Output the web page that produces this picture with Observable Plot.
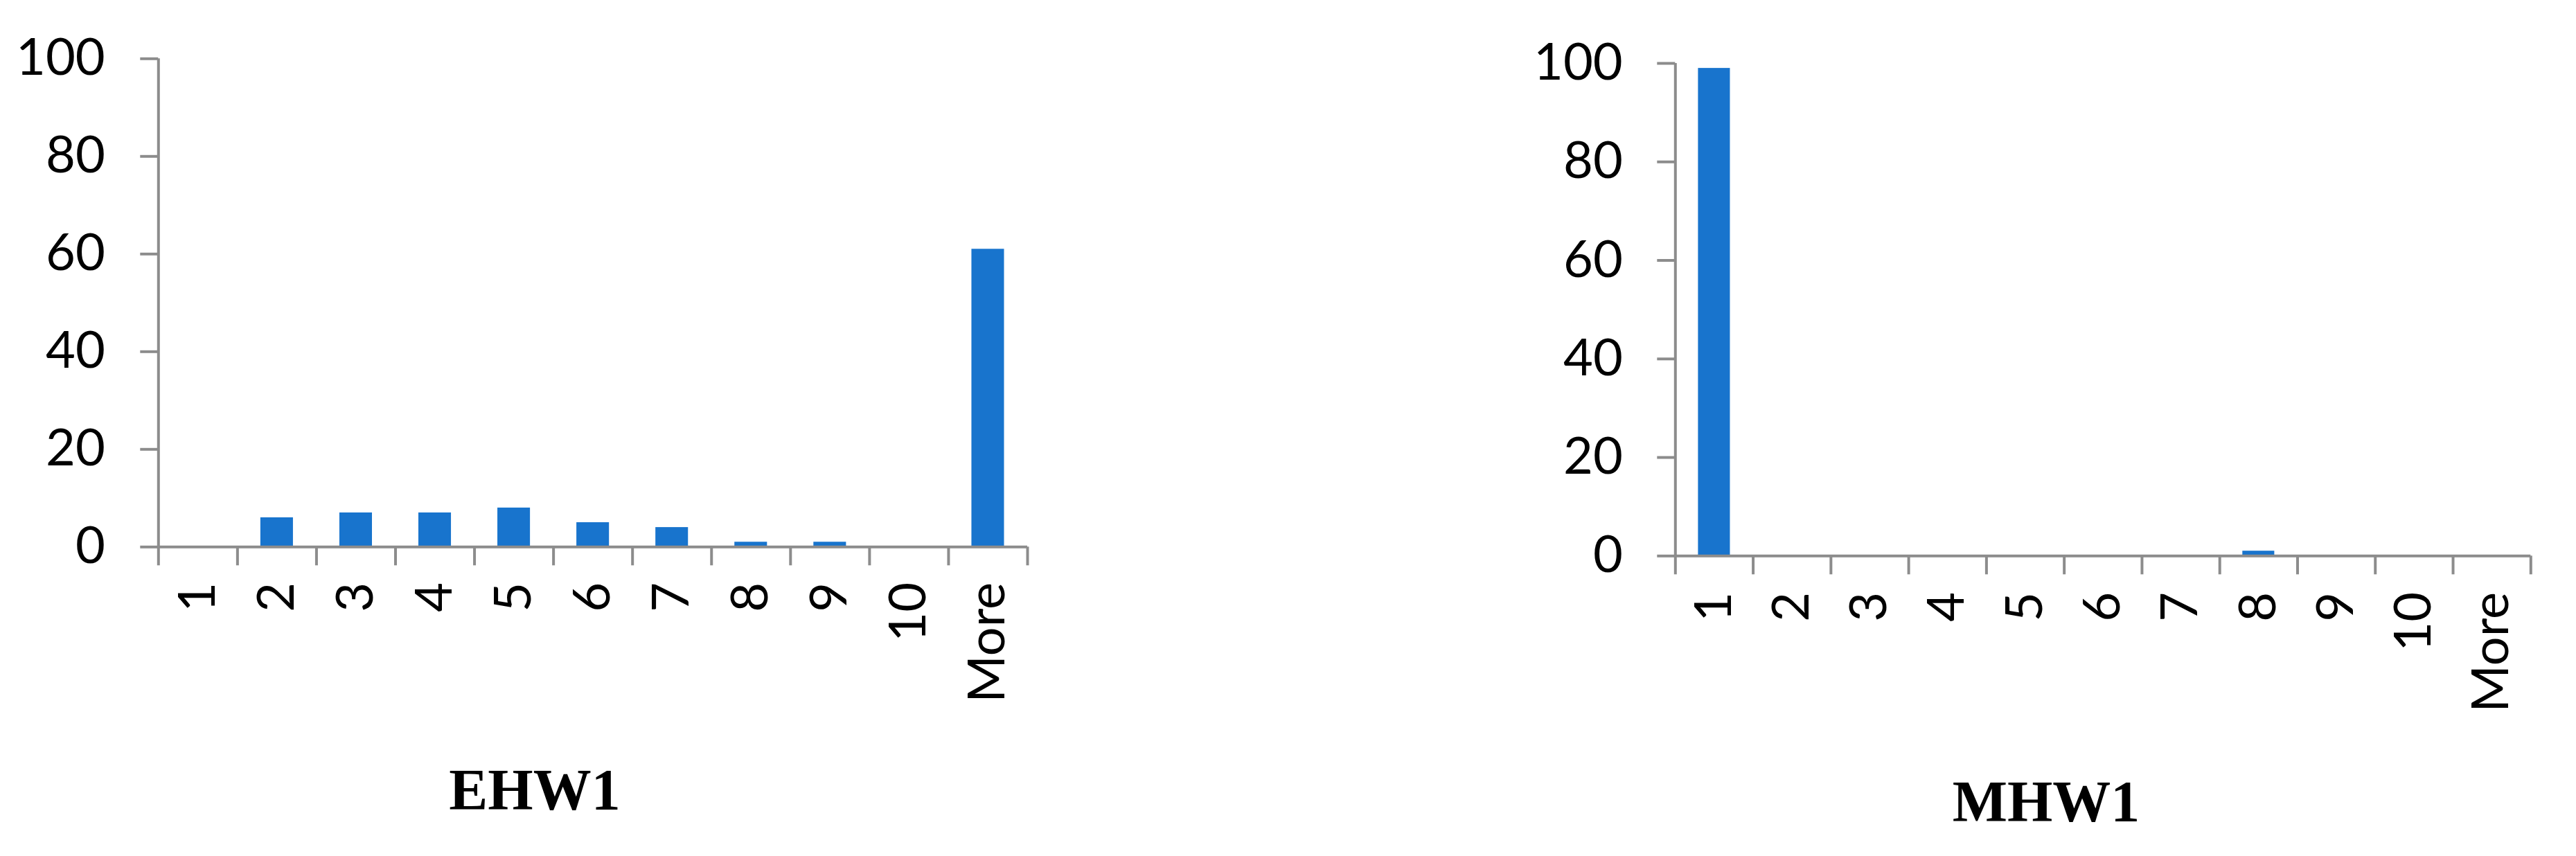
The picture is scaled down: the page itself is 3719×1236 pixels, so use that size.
<!DOCTYPE html>
<html>
<head>
<meta charset="utf-8">
<script src="https://cdn.jsdelivr.net/npm/d3@7"></script>
<script src="https://cdn.jsdelivr.net/npm/@observablehq/plot@0.6"></script>
<style>
  html, body { margin: 0; padding: 0; background: #ffffff; }
  #root { position: relative; width: 3719px; height: 1236px; background: #ffffff; overflow: hidden; }
  .panel { position: absolute; top: 0; }
  .title { position: absolute; width: 600px; text-align: center; font-family: "Liberation Serif", "Times New Roman", serif; font-weight: bold; font-size: 84px; line-height: 84px; color: #000; }
</style>
</head>
<body>
<div id="root"></div>
<script>
// ---- data ----
const categories = ["1", "2", "3", "4", "5", "6", "7", "8", "9", "10", "More"];
const ehw1Values = [0, 6, 7, 7, 8, 5, 4, 1, 1, 0, 61];
const mhw1Values = [99, 0, 0, 0, 0, 0, 0, 1, 0, 0, 0];
const yTicks = [0, 20, 40, 60, 80, 100];
const titles = ["EHW1", "MHW1"];

const BAR = "#1874cd";
const AXIS = "#8c8c8c";

function makeChart(values, cfg) {
  const data = categories.map((c, i) => ({cat: c, i, value: values[i]}));
  const bounds = d3.range(categories.length + 1);
  const centers = categories.map((c, i) => i + 0.5);
  return Plot.plot({
    width: cfg.width,
    height: cfg.height,
    marginLeft: cfg.marginLeft,
    marginRight: cfg.marginRight,
    marginTop: cfg.marginTop,
    marginBottom: cfg.marginBottom,
    style: {background: "transparent", fontFamily: "Lato, 'Open Sans', sans-serif", fontSize: "74px", color: "#000", overflow: "visible"},
    x: {type: "linear", domain: [0, categories.length], label: null},
    y: {domain: [0, 100], label: null},
    marks: [
      Plot.rectY(data, {x1: "i", x2: d => d.i + 1, y: "value", fill: BAR, insetLeft: cfg.inset, insetRight: cfg.inset}),
      Plot.ruleX([0], {stroke: AXIS, strokeWidth: 4}),
      Plot.ruleY([0], {stroke: AXIS, strokeWidth: 4}),
      Plot.axisY({ticks: yTicks, tickSize: 26, tickPadding: cfg.yPad, stroke: AXIS, strokeWidth: 4, fill: "#000", fontSize: 74, label: null}),
      Plot.axisX({ticks: bounds, tickSize: 27, tickFormat: () => "", stroke: AXIS, strokeWidth: 4, label: null}),
      Plot.axisX({ticks: centers, tickSize: 0, tickPadding: cfg.xPad, tickRotate: -90, tickFormat: v => categories[Math.floor(v)], fill: "#000", fontSize: 74, label: null})
    ]
  });
}

const root = document.getElementById("root");

const left = makeChart(ehw1Values, {width: 1550, height: 1060, marginLeft: 228.3, marginRight: 67, marginTop: 84.3, marginBottom: 270.7, inset: 33.5, yPad: 51, xPad: 51});
left.classList.add("panel");
left.style.left = "0px";
root.appendChild(left);

const right = makeChart(mhw1Values, {width: 1569, height: 1060, marginLeft: 268.3, marginRight: 65.7, marginTop: 91, marginBottom: 257.7, inset: 33.1, yPad: 50, xPad: 52});
right.classList.add("panel");
right.style.left = "2150px";
root.appendChild(right);

const t1 = document.createElement("div");
t1.className = "title";
t1.textContent = titles[0];
t1.style.left = (772 - 300) + "px";
t1.style.top = "1099px";
root.appendChild(t1);

const t2 = document.createElement("div");
t2.className = "title";
t2.textContent = titles[1];
t2.style.left = (2954 - 300) + "px";
t2.style.top = "1116px";
root.appendChild(t2);
</script>
</body>
</html>
